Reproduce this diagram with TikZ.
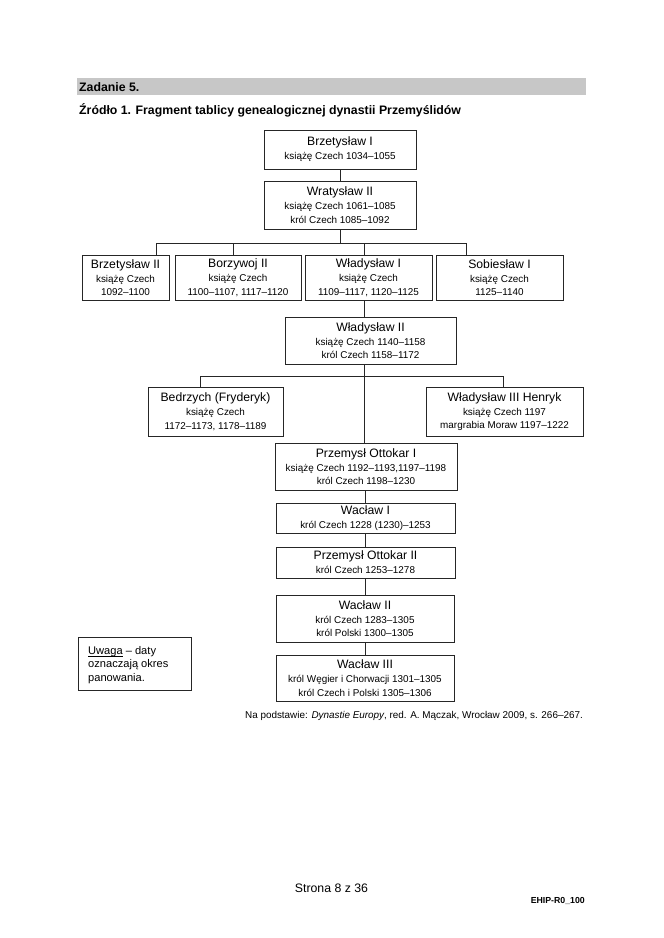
\documentclass[tikz,border=0pt]{standalone}
\usepackage{fontspec}
\setmainfont{Liberation Sans}
\newcommand{\nmf}{\fontsize{12.2}{15}\selectfont}
\newcommand{\sbf}{\fontsize{9.9}{13.5}\selectfont}
\newcommand{\myul}[1]{\setbox0\hbox{#1}\rlap{\rule[-1.6pt]{\wd0}{0.6pt}}#1}
\begin{document}
\begin{tikzpicture}[x=1pt,y=-1pt,
  box/.style={draw=black!85,line width=0.9pt,inner sep=0pt,align=center,font=\sbf},
  conn/.style={draw=black!85,line width=0.7pt},
  txt/.style={inner sep=0pt}]
\useasboundingbox (0,0) rectangle (664,938);
% header
\fill[black!22] (77,78) rectangle (586,95);
\node[txt,anchor=base west,font=\bfseries\fontsize{12.3}{14}\selectfont] (zad) at (79,91.5) {Zadanie 5.};
\node[txt,anchor=base west,font=\bfseries\fontsize{12.3}{14}\selectfont] (tyt) at (79,114.5) {Źródło 1. Fragment tablicy genealogicznej dynastii Przemyślidów};
% boxes
\node[box,minimum width=152pt,minimum height=39pt] (b1) at (340,149.5) {{\nmf Brzetysław I}\\[0.5pt]książę Czech 1034–1055};
\node[box,minimum width=152pt,minimum height=48pt] (w2) at (340,205) {{\nmf Wratysław II}\\[0.5pt]książę Czech 1061–1085\\król Czech 1085–1092};
\node[box,minimum width=87pt,minimum height=45pt] (b2) at (125.5,277.5) {{\nmf Brzetysław II}\\[0.5pt]książę Czech\\1092–1100};
\node[box,minimum width=126pt,minimum height=45pt] (bo) at (238,277.5) {{\nmf Borzywoj II}\\[0.5pt]książę Czech\\1100–1107, 1117–1120};
\node[box,minimum width=127pt,minimum height=45pt] (v1) at (368.5,277.5) {{\nmf Władysław I}\\[0.5pt]książę Czech\\1109–1117, 1120–1125};
\node[box,minimum width=127pt,minimum height=45pt] (s1) at (499.5,277.5) {{\nmf Sobiesław I}\\[0.5pt]książę Czech\\1125–1140};
\node[box,minimum width=171pt,minimum height=47pt] (v2) at (370.5,340.5) {{\nmf Władysław II}\\[0.5pt]książę Czech 1140–1158\\król Czech 1158–1172};
\node[box,minimum width=135pt,minimum height=49pt] (be) at (215.5,411.5) {{\nmf Bedrzych (Fryderyk)}\\[0.5pt]książę Czech\\1172–1173, 1178–1189};
\node[box,minimum width=157pt,minimum height=49pt] (v3) at (504.5,411.5) {{\nmf Władysław III Henryk}\\[0.5pt]książę Czech 1197\\margrabia Moraw 1197–1222};
\node[box,minimum width=182pt,minimum height=47pt] (p1) at (366,466.5) {{\nmf Przemysł Ottokar I}\\[0.5pt]książę Czech 1192–1193,1197–1198\\król Czech 1198–1230};
\node[box,minimum width=179pt,minimum height=30pt] (wa1) at (365.5,518) {{\nmf Wacław I}\\[0.5pt]król Czech 1228 (1230)–1253};
\node[box,minimum width=179pt,minimum height=31pt] (p2) at (365.5,562.5) {{\nmf Przemysł Ottokar II}\\[0.5pt]król Czech 1253–1278};
\node[box,minimum width=178pt,minimum height=47pt] (wa2) at (365,618.5) {{\nmf Wacław II}\\[0.5pt]król Czech 1283–1305\\król Polski 1300–1305};
\node[box,minimum width=178pt,minimum height=46pt] (wa3) at (365,678) {{\nmf Wacław III}\\[0.5pt]król Węgier i Chorwacji 1301–1305\\król Czech i Polski 1305–1306};
% note
\node[draw=black!85,line width=0.9pt,minimum width=113pt,minimum height=53pt,inner sep=0pt] (uw) at (134.5,663.5) {};
\node[txt,anchor=north west,align=left,font=\fontsize{11.1}{13.2}\selectfont] (uwt) at (88,646.5) {\myul{Uwaga} – daty\\oznaczają okres\\panowania.};
% connectors
\coordinate (bl) at (156,243);
\coordinate (d2) at (233,243);
\coordinate (d3) at (364,243);
\coordinate (br) at (466,243);
\coordinate (cl) at (200,376);
\coordinate (cr) at (503,376);
\coordinate (sp) at (365,0);
\draw[conn] (b1.south) -- (w2.north);
\draw[conn] (w2.south) -- (w2.south |- bl);
\draw[conn] (bl |- b2.north) -- (bl) -- (br) -- (br |- s1.north);
\draw[conn] (d2) -- (d2 |- bo.north);
\draw[conn] (d3) -- (d3 |- v1.north);
\draw[conn] (d3 |- v1.south) -- (d3 |- v2.north);
\draw[conn] (d3 |- v2.south) -- (d3 |- p1.north);
\draw[conn] (cl |- be.north) -- (cl) -- (cr) -- (cr |- v3.north);
\draw[conn] (sp |- p1.south) -- (sp |- wa1.north);
\draw[conn] (sp |- wa1.south) -- (sp |- p2.north);
\draw[conn] (sp |- p2.south) -- (sp |- wa2.north);
\draw[conn] (sp |- wa2.south) -- (sp |- wa3.north);
% source and footer
\node[txt,anchor=east,font=\fontsize{9.9}{12}\selectfont] (src) at (583,716) {Na podstawie: \textit{Dynastie Europy}, red. A. Mączak, Wrocław 2009, s. 266–267.};
\node[txt,font=\fontsize{12.3}{14}\selectfont] (str) at (331.5,888) {Strona 8 z 36};
\node[txt,anchor=east,font=\bfseries\fontsize{8.75}{10}\selectfont] (ehip) at (585,901) {EHIP-R0\_100};
\end{tikzpicture}
\end{document}
